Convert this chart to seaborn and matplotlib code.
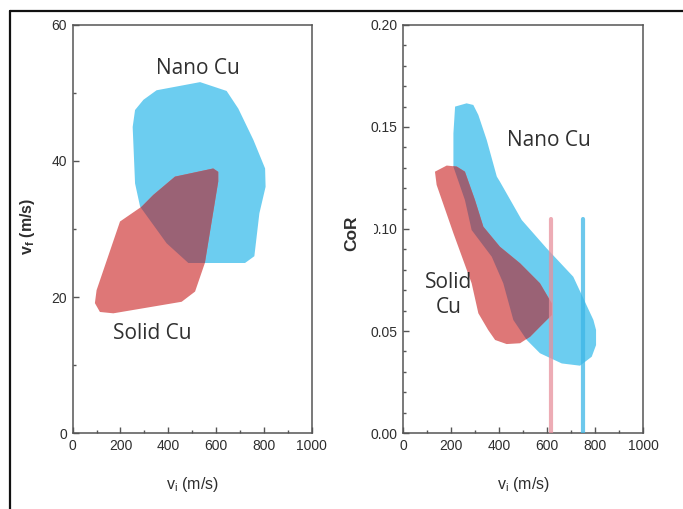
import matplotlib
matplotlib.use("Agg")
import matplotlib.pyplot as plt
import seaborn as sns
import pandas as pd
from matplotlib.patches import Polygon
from matplotlib.ticker import MultipleLocator, FixedLocator, FixedFormatter
from matplotlib.lines import Line2D

# ---------------- data ----------------
# Left panel: v_f vs v_i regions
nano_vi_left = [351, 533, 644, 693, 756, 805, 807, 781, 760, 721, 484, 393, 282, 261, 251, 261, 296]
nano_vf_left = [50.4, 51.6, 50.3, 47.7, 43.1, 38.9, 36.2, 32.3, 26.0, 25.0, 25.0, 27.9, 33.3, 36.7, 45.0, 47.5, 49.0]
solid_vi_left = [93, 100, 198, 289, 337, 428, 588, 609, 609, 553, 512, 456, 170, 114]
solid_vf_left = [19.1, 21.0, 31.1, 33.3, 35.0, 37.7, 38.9, 38.4, 37.0, 25.0, 20.8, 19.3, 17.6, 17.8]

# Right panel: CoR vs v_i regions
nano_vi_right = [216, 264, 292, 313, 348, 390, 403, 494, 598, 709, 793, 804, 804, 786, 737, 661, 570,
                 515, 459, 417, 369, 285, 257, 209, 209]
nano_cor_right = [0.160, 0.1616, 0.1608, 0.1559, 0.1436, 0.1257, 0.1232, 0.1044, 0.0905, 0.0766, 0.0554,
                  0.0505, 0.0431, 0.0374, 0.0330, 0.0341, 0.0391, 0.0456, 0.0554, 0.0734, 0.0864,
                  0.0995, 0.1142, 0.1305, 0.1469]
solid_vi_right = [132, 181, 223, 257, 299, 334, 403, 487, 570, 619, 619, 577, 529, 487, 431, 383, 354,
                  313, 285, 209, 139]
solid_cor_right = [0.1281, 0.1311, 0.1306, 0.1281, 0.1142, 0.1011, 0.0913, 0.0832, 0.0734, 0.0636,
                   0.0578, 0.0529, 0.0472, 0.0440, 0.0436, 0.0456, 0.0505, 0.0587, 0.0734, 0.0979, 0.1216]

# Critical velocity markers (vertical lines)
crit_vi = [615, 750]
crit_cor_top = 0.105
crit_names = ["Solid Cu", "Nano Cu"]

x_ticks = [0, 200, 400, 600, 800, 1000]
left_yticks = [0, 20, 40, 60]
right_yticks = [0.00, 0.05, 0.10, 0.15, 0.20]
right_yticklabels = ["0.00", "0.05", "0.10", "0.15", "0.20"]

# ---------------- style ----------------
sns.set_theme(style="white")
plt.rcParams["font.family"] = ["Liberation Sans", "DejaVu Sans"]

BLUE = "#6ccdf0"
RED = "#de7777"
OVER = "#9a6275"
SPINE = "#555555"
TXT = "#2e2e2e"

fig = plt.figure(figsize=(6.83, 5.09), dpi=100)
axL = fig.add_axes([0.1064, 0.1493, 0.350, 0.8016])
axR = fig.add_axes([0.5905, 0.1493, 0.351, 0.8016])


def regions(ax, nx, ny, sx, sy):
    pn = Polygon(list(zip(nx, ny)), closed=True, facecolor=BLUE, edgecolor="none", zorder=1)
    ps = Polygon(list(zip(sx, sy)), closed=True, facecolor=RED, edgecolor="none", zorder=2)
    ax.add_patch(pn)
    ax.add_patch(ps)
    po = Polygon(list(zip(nx, ny)), closed=True, facecolor=OVER, edgecolor="none", zorder=3)
    ax.add_patch(po)
    po.set_clip_path(ps)


regions(axL, nano_vi_left, nano_vf_left, solid_vi_left, solid_vf_left)
regions(axR, nano_vi_right, nano_cor_right, solid_vi_right, solid_cor_right)

# vertical lines via seaborn
line_df = pd.DataFrame({
    "vi": [crit_vi[0], crit_vi[0], crit_vi[1], crit_vi[1]],
    "cor": [0, crit_cor_top, 0, crit_cor_top],
    "mat": [crit_names[0], crit_names[0], crit_names[1], crit_names[1]],
})
sns.lineplot(data=line_df, x="vi", y="cor", hue="mat", units="mat", estimator=None, sort=False,
             palette={"Solid Cu": "#e8909c", "Nano Cu": "#3cb6e6"}, linewidth=3.0, alpha=0.75,
             legend=False, ax=axR, zorder=4)

for ax in (axL, axR):
    ax.set_xlim(0, 1000)
    ax.xaxis.set_major_locator(FixedLocator(x_ticks))
    ax.xaxis.set_minor_locator(MultipleLocator(100))
    for s in ax.spines.values():
        s.set_color(SPINE)
        s.set_linewidth(1.1)
        s.set_visible(True)
    ax.tick_params(which="both", direction="in", colors=SPINE, labelcolor=TXT,
                   labelsize=10, top=False, right=False, bottom=True, left=True, width=1)
    ax.tick_params(which="major", length=4, pad=4)
    ax.tick_params(which="minor", length=2.5)
    ax.set_xlabel("v$_\\mathregular{i}$ (m/s)", fontsize=11.5, color=TXT, labelpad=16)

axL.set_ylim(0, 60)
axL.yaxis.set_major_locator(FixedLocator(left_yticks))
axL.yaxis.set_minor_locator(MultipleLocator(10))
axL.set_ylabel("v$_\\mathregular{f}$ (m/s)", fontsize=11.5, color=TXT, fontweight="bold")
axL.yaxis.set_label_coords(-0.15, 0.505)

axR.set_ylim(0, 0.20)
axR.yaxis.set_major_locator(FixedLocator(right_yticks))
axR.yaxis.set_major_formatter(FixedFormatter(right_yticklabels))
axR.yaxis.set_minor_locator(MultipleLocator(0.01))
axR.set_ylabel("CoR", fontsize=12.5, color=TXT, fontweight="bold",
                bbox=dict(facecolor="white", edgecolor="none", pad=11))
axR.yaxis.set_label_coords(-0.185, 0.49)

ann = dict(fontsize=15, color="#303030", family=["Open Sans", "DejaVu Sans"], ha="center", va="center")
axL.text(524, 53.6, "Nano Cu", zorder=5, **ann)
axL.text(334, 14.7, "Solid Cu", zorder=5, **ann)
axR.text(607, 0.1436, "Nano Cu", zorder=5, **ann)
axR.text(188, 0.0676, "Solid\nCu", zorder=5, linespacing=1.25, **ann)

# screenshot frame (top and left border)
fig.add_artist(Line2D([10 / 683, 1.0], [1 - 11 / 509, 1 - 11 / 509], color="#111111", linewidth=1.6))
fig.add_artist(Line2D([10 / 683, 10 / 683], [0, 1 - 11 / 509], color="#111111", linewidth=1.6))

fig.savefig("out.png", dpi=100)
